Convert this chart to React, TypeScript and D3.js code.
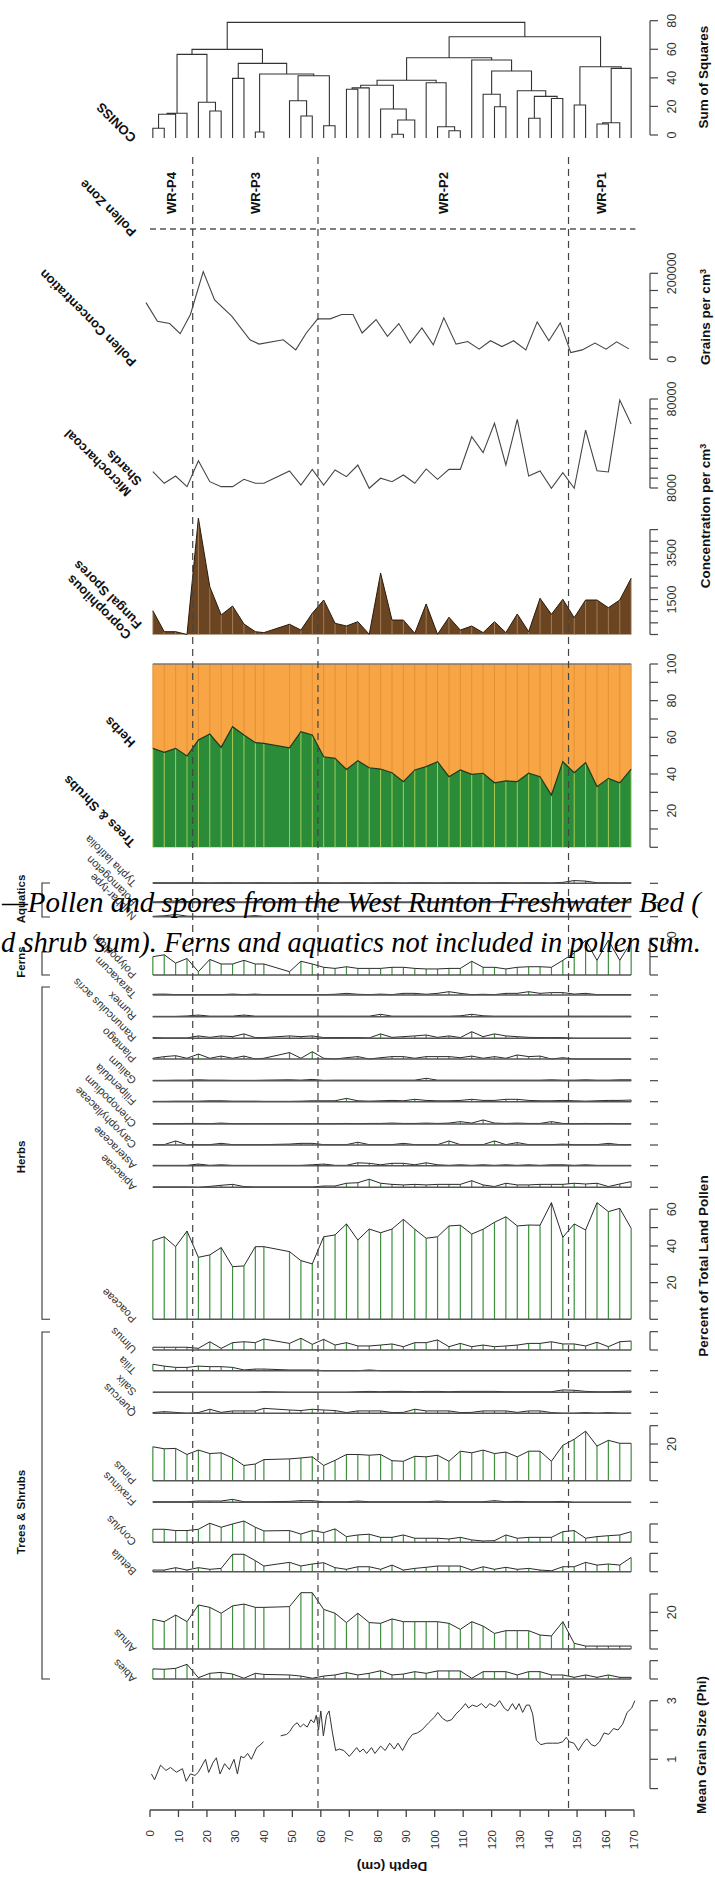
import React from "react";
import * as d3 from "d3";

// ---------------- DATA ----------------
const sampleDepths = [1, 5, 9, 13, 17, 21, 25, 29, 33, 37, 40, 49, 53, 57, 61, 65, 69, 73, 77, 81, 85, 89, 93, 97, 101, 105, 109, 113, 117, 121, 125, 129, 133, 137, 141, 145, 149, 153, 157, 161, 165, 169];

const depthTicks = [0, 10, 20, 30, 40, 50, 60, 70, 80, 90, 100, 110, 120, 130, 140, 150, 160, 170];
const zoneBounds = [15, 59, 147];
const zoneNames = ["WR-P4", "WR-P3", "WR-P2", "WR-P1"];
const zoneMids = [7.5, 37, 103, 158.5];

// CONISS merges: negative = leaf (-(index+1)), positive = earlier merge row; [a, b, height]
const conissMerges: [number, number, number][] = [
  [-1, -2, 4.7], [0, -3, 14.5], [1, -4, 15.2], [-6, -7, 16.8], [-5, 3, 22.9], [2, 4, 56.4],
  [-8, -9, 39.6], [-10, -11, 2.1], [-13, -14, 13.3], [-12, 8, 24.0], [-15, -16, 6.5], [9, 10, 41.5],
  [7, 11, 42.7], [6, 12, 50.1], [5, 13, 59.9], [-21, -22, 0.5], [15, -23, 10.5], [-20, 16, 18.2],
  [-17, -18, 32.0], [18, -19, 33.0], [19, 17, 34.8], [-26, -27, 3.0], [-25, 21, 5.8], [-24, 22, 36.6],
  [20, 23, 38.3], [-30, -31, 19.8], [-29, 25, 28.5], [-33, -34, 11.7], [-35, -36, 25.5], [27, 28, 27.0],
  [-32, 29, 31.0], [26, 30, 44.8], [-28, 31, 52.5], [24, 32, 54.1], [-37, -38, 21.0], [-39, -40, 7.7],
  [35, -41, 8.6], [36, -42, 46.6], [34, 37, 47.8], [33, 38, 68.8], [14, 39, 78.8],
];
const conissTicks = [0, 20, 40, 60, 80];

const concDepths = [-1.4, 2.6, 6.9, 10.6, 14.2, 18.7, 22.7, 28.7, 35.1, 38.3, 46.8, 51.2, 54.9, 58.9, 63.3, 67.3, 71.3, 74.5, 79.4, 83.4, 87.4, 91.4, 95.5, 99.5, 103.2, 107.5, 111.6, 115.6, 119.6, 123.6, 127.7, 132.0, 136.0, 140.1, 144.1, 147.8, 151.8, 156.3, 160.2, 163.9, 168.2];
const concValues = [131800, 88500, 83100, 59500, 104200, 203800, 137900, 100200, 45400, 35300, 45400, 21900, 61200, 94100, 94100, 104200, 104200, 61200, 92500, 53200, 83100, 37600, 72900, 33600, 96400, 35300, 41400, 23500, 43100, 29600, 43100, 21900, 87000, 43100, 84700, 15500, 21900, 37600, 23500, 40700, 24200];
const concTicks = [0, 40000, 80000, 120000, 160000, 200000];
const concLabelTicks = [0, 200000];

const charcoalValues = [21200, 11800, 17700, 9100, 30100, 13100, 9100, 9100, 15000, 11800, 11800, 21800, 10400, 23100, 10400, 22600, 17200, 26600, 7800, 15900, 13100, 18500, 11800, 23400, 15000, 23100, 23100, 49500, 36600, 60400, 26600, 63600, 17700, 21800, 7800, 20400, 7800, 54900, 22000, 21000, 79200, 59800];
const charcoalTicks = [8000, 16000, 24000, 32000, 40000, 48000, 56000, 64000, 72000, 80000];
const charcoalLabelTicks = [8000, 80000];

const fungalValues = [1020, 120, 120, 0, 4990, 2050, 840, 1220, 450, 120, 80, 440, 190, 910, 1480, 480, 365, 550, 10, 2630, 620, 620, 50, 1310, 10, 740, 190, 365, 80, 550, 80, 880, 120, 1550, 865, 1510, 720, 1480, 1480, 1150, 1480, 2410];
const fungalTicks = [0, 500, 1000, 1500, 2000, 2500, 3000, 3500, 4000, 4500];
const fungalLabelTicks = [1500, 3500];

const treesShrubsPct = [54.0, 51.8, 54.0, 49.8, 58.5, 61.8, 54.5, 65.8, 61.3, 57.1, 56.7, 54.3, 63.1, 61.3, 49.4, 48.5, 42.5, 47.2, 43.4, 42.7, 40.7, 35.8, 42.2, 44.0, 46.7, 38.5, 42.2, 39.8, 40.4, 35.2, 36.2, 35.8, 40.4, 38.5, 28.5, 46.7, 40.7, 46.2, 33.1, 37.6, 35.2, 42.7];
const pctTicks = [0, 10, 20, 30, 40, 50, 60, 70, 80, 90, 100];
const pctLabelTicks = [20, 40, 60, 80, 100];

// taxa percentages
const typha = [0.3, 0.3, 0.3, 0.3, 0.3, 0.2, 0.3, 0.3, 0.2, 0.3, 0.3, 0.2, 0.3, 0.3, 0.3, 0.2, 0.3, 0.3, 0.2, 0.3, 0.3, 0.2, 0.3, 0.3, 0.2, 0.3, 0.3, 0.3, 0.2, 0.3, 0.3, 0.2, 0.3, 0.3, 0.2, 0.5, 1.5, 1.2, 0.3, 0.3, 0.2, 0.3];
const potamogeton = [0.3, 0.5, 0.8, 0.5, 0.3, 0.3, 0.3, 0.3, 0.3, 0.3, 0.3, 0.3, 0.3, 0.5, 0.3, 0.3, 0.3, 0.3, 0.3, 0.3, 0.3, 0.3, 0.3, 0.3, 0.3, 0.3, 0.3, 0.3, 0.3, 0.5, 0.7, 0.5, 0.3, 0.3, 0.3, 0.3, 0.5, 0.3, 0.3, 0.3, 0.3, 0.3];
const nuphar = [0.2, 0.5, 1.2, 0.3, 0.2, 0.2, 0.2, 0.2, 0.2, 0.6, 0.2, 0.2, 0.2, 0.2, 0.2, 0.2, 0.2, 0.2, 0.2, 0.2, 0.2, 0.2, 0.2, 0.2, 0.2, 0.2, 0.2, 0.2, 0.2, 0.2, 0.2, 0.2, 0.2, 0.2, 0.2, 0.2, 0.2, 0.2, 0.2, 0.2, 0.2, 0.2];
const polypodium = [10, 11, 6.5, 9, 1.8, 8.5, 6, 6, 8, 6, 6, 1.8, 7.5, 6, 4.2, 3.6, 4.5, 3.6, 3.6, 3.6, 4.2, 4.2, 3.6, 3.3, 3.3, 3.6, 3.6, 7.5, 4.2, 4.2, 3.3, 4.2, 4.5, 4.5, 4.2, 8, 12, 19, 8, 19, 8, 18];
const taraxacum = [0.4, 0.5, 0.2, 0.2, 0.2, 0.2, 0.2, 0.5, 0.2, 0.5, 0.2, 0.2, 0.2, 0.2, 0.2, 0.4, 0.9, 0.4, 0.2, 0.5, 0.2, 0.9, 0.9, 0.4, 0.9, 1.8, 0.9, 0.2, 0.4, 0.2, 0.9, 0.9, 1.8, 0.9, 1.3, 1.3, 0.5, 0.9, 0.2, 0.2, 0.2, 0.2];
const rumex = [0.2, 0.2, 0.2, 0.4, 0.9, 0.3, 0.3, 0.3, 0.9, 0.3, 0.3, 0.3, 0.3, 0.3, 0.3, 0.3, 0.3, 0.3, 0.3, 1.3, 0.3, 0.3, 0.3, 0.3, 0.3, 0.3, 0.5, 1.3, 0.5, 0.3, 0.3, 0.3, 0.3, 0.3, 0.3, 0.3, 0.3, 0.3, 0.3, 0.3, 0.3, 0.3];
const ranunculus = [0.4, 0.2, 0.2, 0.2, 1.3, 0.5, 1.3, 0.9, 2.4, 0.4, 0.4, 1.3, 0.9, 1.3, 0.4, 0.4, 0.4, 0.4, 0.2, 2.4, 0.5, 0.9, 1.3, 1.8, 0.5, 1.3, 0.4, 3.6, 0.9, 2.4, 1.3, 0.9, 0.5, 0.4, 0.4, 0.4, 0, 0, 0, 0, 0, 0];
const plantago = [0.4, 1.3, 1.8, 0.4, 2.7, 0.4, 1.6, 0.4, 1.6, 0, 0.4, 3.5, 0.4, 4, 0.4, 0, 0.7, 1.3, 0, 0.7, 1.3, 1.3, 0.4, 1.3, 1.3, 1.3, 0.7, 1.6, 0.4, 1.3, 0.4, 2.2, 1.3, 1.6, 0, 0.7, 0, 0, 0, 0, 0, 0];
const galium = [0.2, 0.2, 0.3, 0.3, 0.5, 0.3, 0.3, 0.2, 0.2, 0.2, 0.3, 0.5, 0.3, 0.7, 0.2, 0.3, 0.3, 0.3, 0.3, 0.3, 0.3, 0.3, 0.3, 1.3, 0.3, 0.3, 0.3, 0.3, 0.3, 0.3, 0.3, 0.3, 0.3, 0.3, 0.5, 0.3, 0.3, 0.5, 0.3, 0.3, 0.5, 0.5];
const filipendula = [0.2, 0.2, 0.3, 0.3, 0.3, 0.5, 0.5, 0.3, 0.3, 0.3, 0.2, 0.2, 0.3, 0.5, 0.5, 0.5, 1.8, 0.5, 0.3, 0.5, 0.7, 0.5, 1.3, 0.7, 0.5, 0.5, 0.7, 1.3, 0.7, 0.7, 1.3, 1.3, 0.7, 0.5, 0.5, 0.7, 0.5, 0.3, 0.5, 0.7, 0.7, 0.9];
const chenopodium = [0.2, 0.2, 0.2, 0.3, 0.3, 0.2, 0.5, 0.2, 0.2, 0.2, 0.2, 0.2, 0.2, 0.2, 0.2, 0.2, 0.3, 0.2, 0.3, 0.3, 0.5, 0.3, 0.3, 0.5, 0.3, 0.5, 1.3, 0.5, 2.2, 0.5, 0.3, 0.5, 0.3, 0.3, 1.3, 0.3, 0.2, 0.3, 0.2, 0.3, 0.2, 0.2];
const caryophyllaceae = [0.2, 0.2, 2.2, 0.2, 0.2, 0.2, 0.9, 0.2, 0.2, 0.2, 0.2, 0.5, 0.9, 0.9, 0.2, 0.2, 0.2, 1.5, 0.2, 0.2, 0.2, 0.9, 0.2, 0.2, 0.2, 2.2, 0.2, 0.2, 0.2, 2.2, 0.2, 1.3, 0.2, 0.2, 0.2, 0.5, 0.2, 0.2, 0.2, 0.9, 0.2, 0.2];
const asteraceae = [0.2, 0.2, 0.2, 0.2, 0.9, 0.2, 0.5, 0.2, 0.2, 0.2, 0.2, 0.2, 0.2, 0.5, 0.9, 0.2, 0.2, 1.6, 1.3, 0.5, 1.3, 1.3, 0.5, 1.6, 0.5, 0.2, 0.5, 0.2, 0.5, 0.2, 0.5, 0.2, 0.5, 0.2, 0.5, 0.5, 0.2, 0.5, 0.2, 0.2, 0.2, 0.2];
const apiaceae = [0.2, 0.2, 0.2, 0.2, 0, 0.5, 1.1, 1.6, 0.4, 0.2, 0.2, 0.2, 0.2, 0.2, 0.7, 0.7, 2.2, 2.5, 4.4, 2.2, 1.6, 1.3, 1.6, 1.3, 1.6, 1.6, 1.6, 3.6, 1.3, 0.4, 2.2, 1.3, 1.3, 1.6, 1.6, 1.6, 2.2, 1.8, 2.2, 0.4, 1.8, 3.1];
const poaceae = [42.9, 45.0, 39.6, 48.1, 33.8, 35.1, 39.1, 28.7, 29.1, 39.6, 39.6, 36.9, 32.0, 30.2, 45.0, 46.0, 52.0, 43.2, 49.2, 47.2, 49.2, 54.5, 49.1, 44.2, 45.0, 50.9, 51.3, 46.5, 49.1, 52.9, 55.9, 50.9, 51.4, 51.3, 63.6, 44.7, 52.0, 48.7, 63.6, 58.7, 60.5, 49.6];
const ulmus = [1.5, 1.5, 1.5, 1.5, 0.9, 4.5, 0.9, 4, 4.5, 4, 6, 3.6, 6.4, 3.1, 5.8, 2.7, 4, 2.2, 2.2, 2.7, 3.3, 1.8, 4, 4, 5.5, 1.8, 3.6, 1.8, 2.7, 1.8, 2.2, 2.7, 3.6, 3.6, 4.5, 3.3, 3.3, 2.2, 4.2, 1.8, 4.5, 4.9];
const tilia = [3.5, 2.5, 1.8, 1.8, 2.5, 2.2, 2.2, 1.8, 0.4, 0.9, 0.9, 0.4, 0.4, 0.4, 0, 0, 0, 0, 0.4, 0, 0, 0, 0, 0, 0, 0, 0, 0, 0, 0, 0, 0, 0, 0, 0, 0, 0, 0, 0, 0, 0, 0];
const salix = [0, 0, 0, 0, 0, 0, 0, 0, 0, 0, 0.3, 0, 0, 0, 0, 0, 0, 0.3, 0.5, 0.3, 0.5, 0.5, 0.3, 0.5, 0.5, 0.3, 0.5, 0.5, 0.5, 0.5, 0.3, 0.3, 0.3, 0.3, 0.3, 1.3, 1.1, 0.5, 0.3, 0.3, 0.5, 0.7];
const quercus = [0.4, 0.9, 0.5, 0, 0.4, 2.2, 0.5, 1.3, 1.3, 1.3, 2.7, 1.8, 1.5, 2.2, 1.8, 1.5, 0.4, 1.3, 1.3, 1.3, 0.4, 0.5, 2.2, 1.3, 1.3, 1.3, 0.4, 0.5, 1.3, 1.3, 1.3, 0.5, 1.3, 1.3, 0.4, 0, 0, 0.4, 0, 0.4, 0, 0];
const pinus = [18.5, 17.4, 17.6, 14.3, 16.7, 14.8, 15.2, 12.4, 8.3, 9.1, 11.5, 11.9, 12.4, 13, 8.3, 11.1, 14.3, 14.3, 13.9, 14.3, 10.9, 10.6, 13.3, 13, 13.9, 10.6, 16.1, 15.2, 16.7, 14.8, 15.6, 13, 16.1, 16.1, 10.6, 19.3, 22.6, 27, 18.9, 22, 20.4, 20.4];
const fraxinus = [0.3, 0.3, 0.3, 0.3, 0.7, 0.7, 0.7, 1.6, 0.3, 0.3, 0.3, 0.5, 0.9, 0.9, 0.3, 0.3, 0.3, 0.7, 0.3, 0.3, 0.3, 0.3, 0.3, 0.3, 0.7, 0.3, 0.3, 0.3, 0.3, 0.9, 0.3, 0.5, 0.3, 0.3, 0.3, 0.5, 0, 0, 0, 0, 0, 0];
const corylus = [7.1, 7.1, 6.4, 6.4, 7.1, 10.4, 8.2, 10, 11.6, 8.2, 6.2, 6.4, 4.5, 6.4, 5.3, 7.3, 3.1, 4, 4.4, 2.7, 2.7, 4, 2.2, 2.2, 2.2, 1.8, 2.7, 1.3, 0.7, 0.9, 4, 2.2, 2.7, 2.7, 2.7, 5.8, 6.4, 2.2, 3.1, 3.6, 4, 5.8];
const betula = [0.9, 0.9, 2.2, 0.9, 2.2, 1.3, 1.8, 9.5, 9.5, 6, 3.1, 5.1, 3.1, 4.2, 4.9, 2.2, 1.3, 2.7, 2.7, 1.3, 3.6, 0.9, 1.8, 2.4, 3.1, 3.1, 3.1, 0.9, 2.7, 1.3, 2.4, 1.3, 1.8, 0.9, 0.5, 2.7, 2.7, 5.1, 3.6, 4.2, 3.6, 7.8];
const alnus = [16.2, 14.9, 18.5, 14.9, 24, 22.7, 19.5, 23.5, 24.5, 22.7, 22.7, 23.1, 30.7, 30.7, 21.6, 19.5, 14.4, 19.5, 14.4, 14, 16.4, 14.9, 14.9, 14.9, 14.9, 14, 10.7, 14.9, 12.5, 8.5, 10, 10, 10, 7.6, 7.1, 14.9, 3.1, 1.6, 1.6, 1.6, 1.6, 1.6];
const abies = [5.5, 5.3, 5.8, 8, 0.7, 3.1, 3.6, 2.7, 0.4, 3.1, 2.5, 2.2, 1.6, 0.4, 1.6, 2.2, 3.5, 2.2, 3.1, 4.5, 2.2, 2.7, 4, 3.1, 4.4, 4.4, 4.4, 0.4, 4, 4, 4, 2.2, 4, 4, 2.2, 2.2, 0.9, 2.2, 0.9, 2.2, 0.9, 0.9];

const grainDepths = [0.5, 1.6, 3.7, 5.6, 7.2, 9.3, 11.4, 12.7, 14.2, 15.8, 16.9, 19.5, 20.6, 22.2, 23.3, 24.6, 26.2, 27.9, 29.5, 30.7, 31.9, 33.0, 34.3, 35.6, 37.5, 38.6, 39.9, 45.9, 48.0, 49.1, 50.4, 51.7, 52.8, 53.9, 55.2, 56.5, 57.6, 58.4, 59.2, 60.0, 60.9, 62.0, 62.9, 64.1, 65.2, 66.5, 68.1, 70.0, 71.3, 72.6, 73.7, 74.9, 76.1, 77.8, 79.0, 81.0, 82.6, 84.2, 85.8, 87.1, 88.7, 90.6, 92.2, 93.9, 95.5, 97.9, 100.0, 101.1, 102.7, 104.3, 105.9, 107.5, 109.1, 110.8, 111.9, 113.2, 114.8, 116.4, 118.0, 119.3, 121.2, 122.8, 124.4, 125.7, 127.3, 128.5, 129.6, 130.9, 132.2, 133.3, 134.4, 135.7, 137.3, 139.3, 141.3, 143.4, 145.0, 146.2, 147.3, 148.9, 150.5, 152.1, 153.4, 155.0, 156.3, 157.9, 159.5, 161.1, 162.8, 164.4, 166.0, 167.6, 169.2, 170.3];
const grainPhi = [0.5, 0.3, 0.8, 0.62, 0.72, 0.56, 0.68, 0.25, 0.5, 0.45, 0.55, 1.0, 0.55, 0.9, 1.05, 0.5, 0.85, 0.65, 1.0, 0.5, 1.1, 1.05, 1.2, 1.0, 1.4, 1.48, 1.6, 1.8, 1.85, 1.95, 2.15, 2.25, 2.1, 2.2, 2.1, 2.35, 2.25, 2.5, 2.0, 2.65, 1.8, 2.5, 2.65, 1.9, 1.3, 1.35, 1.3, 1.1, 1.25, 1.4, 1.25, 1.35, 1.2, 1.4, 1.2, 1.45, 1.3, 1.55, 1.35, 1.55, 1.3, 1.65, 1.85, 1.9, 2.0, 2.25, 2.45, 2.6, 2.4, 2.3, 2.35, 2.55, 2.7, 2.9, 2.75, 2.85, 2.8, 2.9, 2.75, 2.9, 2.8, 3.0, 2.75, 2.65, 2.9, 2.7, 2.9, 2.6, 2.85, 2.85, 2.55, 1.65, 1.5, 1.55, 1.55, 1.55, 1.6, 1.75, 1.6, 1.55, 1.3, 1.55, 1.7, 1.5, 1.45, 1.6, 1.9, 1.85, 2.05, 2.0, 2.2, 2.6, 2.75, 3.0];
const grainTicks = [0, 1, 2, 3];
const grainLabelTicks = [1, 3];

const captionLine1 = "\u2014Pollen and spores from the West Runton Freshwater Bed (";
const captionLine2 = "d shrub sum). Ferns and aquatics not included in pollen sum.";

// ---------------- LAYOUT ----------------
const FONT = "'Liberation Sans', Arial, Helvetica, sans-serif";
const K = 1.834; // px per percent
const AX = 650;
const TL = 8;
const TLX = 672;
const LX = 137;

type Taxon = { name: string; values: number[]; base: number; ticks: number[]; labels: number[] };
const taxa: Taxon[] = [
  { name: "Typha latifolia", values: typha, base: 883.3, ticks: [0], labels: [] },
  { name: "Potamogeton", values: potamogeton, base: 902.5, ticks: [0], labels: [] },
  { name: "Nuphar-type", values: nuphar, base: 916.7, ticks: [0], labels: [] },
  { name: "Polypodium", values: polypodium, base: 975, ticks: [0, 10, 20], labels: [20] },
  { name: "Taraxacum", values: taraxacum, base: 995, ticks: [0], labels: [] },
  { name: "Rumex", values: rumex, base: 1016.7, ticks: [0], labels: [] },
  { name: "Ranunculus acris", values: ranunculus, base: 1038.3, ticks: [0], labels: [] },
  { name: "Plantago", values: plantago, base: 1059, ticks: [0], labels: [] },
  { name: "Galium", values: galium, base: 1080.7, ticks: [0], labels: [] },
  { name: "Filipendula", values: filipendula, base: 1101.7, ticks: [0], labels: [] },
  { name: "Chenopodium", values: chenopodium, base: 1124, ticks: [0], labels: [] },
  { name: "Caryophyllaceae", values: caryophyllaceae, base: 1145, ticks: [0], labels: [] },
  { name: "Asteraceae", values: asteraceae, base: 1165.7, ticks: [0], labels: [] },
  { name: "Apiaceae", values: apiaceae, base: 1187.3, ticks: [0], labels: [] },
  { name: "Poaceae", values: poaceae, base: 1319.3, ticks: [0, 10, 20, 30, 40, 50, 60], labels: [20, 40, 60] },
  { name: "Ulmus", values: ulmus, base: 1350, ticks: [0, 10], labels: [] },
  { name: "Tilia", values: tilia, base: 1370.7, ticks: [0], labels: [] },
  { name: "Salix", values: salix, base: 1392.3, ticks: [0], labels: [] },
  { name: "Quercus", values: quercus, base: 1413.3, ticks: [0], labels: [] },
  { name: "Pinus", values: pinus, base: 1480.7, ticks: [0, 10, 20, 30], labels: [20] },
  { name: "Fraxinus", values: fraxinus, base: 1502.3, ticks: [0], labels: [] },
  { name: "Corylus", values: corylus, base: 1542.3, ticks: [0, 10], labels: [] },
  { name: "Betula", values: betula, base: 1571.7, ticks: [0, 10], labels: [] },
  { name: "Alnus", values: alnus, base: 1649, ticks: [0, 10, 20, 30], labels: [20] },
  { name: "Abies", values: abies, base: 1679, ticks: [0, 10], labels: [] },
];

const groups = [
  { name: "Aquatics", top: 883, bottom: 917, mid: 899 },
  { name: "Ferns", top: 952, bottom: 975, mid: 962 },
  { name: "Herbs", top: 987, bottom: 1319.3, mid: 1157 },
  { name: "Trees & Shrubs", top: 1332, bottom: 1679, mid: 1512 },
];

function RightAxis({ ticks, labels, scale }: { ticks: number[]; labels: number[]; scale: (v: number) => number }) {
  const ys = ticks.map(scale);
  const top = Math.min(...ys);
  const bot = Math.max(...ys);
  return (
    <g stroke="#444" strokeWidth={1.2}>
      {ys.length > 1 && <line x1={AX} x2={AX} y1={top} y2={bot} />}
      {ys.map((y, i) => (
        <line key={i} x1={AX} x2={AX + TL} y1={y} y2={y} />
      ))}
      {labels.map((v, i) => (
        <text key={"l" + i} stroke="none" fill="#333" fontSize={12.5} fontFamily={FONT} textAnchor="middle" dy="0.35em" transform={`translate(${TLX},${scale(v)}) rotate(-90)`}>
          {String(v)}
        </text>
      ))}
    </g>
  );
}

function PanelLabel({ y, lines, bold, x = LX, size }: { y: number; lines: string[]; bold?: boolean; x?: number; size?: number }) {
  return (
    <text transform={`translate(${x},${y}) rotate(-135)`} fontFamily={FONT} fontWeight={bold ? "bold" : "normal"} fontSize={size ?? (bold ? 13 : 11)} fill={bold ? "#111" : "#333"}>
      {lines.map((l, i) => (
        <tspan key={i} x={0} dy={i === 0 ? 0 : 15}>
          {l}
        </tspan>
      ))}
    </text>
  );
}

function AxisTitle({ x, y, text }: { x: number; y: number; text: React.ReactNode }) {
  return (
    <text transform={`translate(${x},${y}) rotate(-90)`} textAnchor="middle" dy="0.35em" fontFamily={FONT} fontWeight="bold" fontSize={13.5} fill="#111">
      {text}
    </text>
  );
}

export default function App() {
  const x = d3.scaleLinear().domain([0, 170]).range([150, 634]);
  const xs = sampleDepths.map((d) => x(d));
  const x0 = xs[0];
  const x1 = xs[xs.length - 1];

  // CONISS
  const yC = d3.scaleLinear().domain([0, 80]).range([135, 20.7]);
  const nodes: { x: number; h: number }[] = [];
  const segs: string[] = [];
  const nodeOf = (id: number) => (id < 0 ? { x: xs[-id - 1], h: -1 } : nodes[id]);
  const yOf = (h: number) => (h < 0 ? 138 : yC(h));
  conissMerges.forEach(([a, b, h]) => {
    const na = nodeOf(a);
    const nb = nodeOf(b);
    segs.push(`M${na.x},${yOf(na.h)}V${yC(h)}H${nb.x}V${yOf(nb.h)}`);
    nodes.push({ x: (na.x + nb.x) / 2, h });
  });

  // concentration
  const yConc = d3.scaleLinear().domain([0, 200000]).range([359.3, 273.3]);
  const concLine = d3.line<number>().x((_, i) => x(concDepths[i])).y((v) => yConc(v))(concValues) || "";

  // charcoal
  const yChar = d3.scaleLinear().domain([8000, 80000]).range([488, 399]);
  const charLine = d3.line<number>().x((_, i) => xs[i]).y((v) => yChar(v))(charcoalValues) || "";

  // fungal
  const yFun = d3.scaleLinear().domain([0, 4500]).range([634.5, 529.6]);
  const funArea = d3.area<number>().x((_, i) => xs[i]).y0(yFun(0)).y1((v) => yFun(v))(fungalValues) || "";
  const funLine = d3.line<number>().x((_, i) => xs[i]).y((v) => yFun(v))(fungalValues) || "";

  // stacked %
  const yPct = d3.scaleLinear().domain([0, 100]).range([847.3, 664]);
  const greenArea = d3.area<number>().x((_, i) => xs[i]).y0(yPct(0)).y1((v) => yPct(v))(treesShrubsPct) || "";
  const orangeArea = d3.area<number>().x((_, i) => xs[i]).y0((v) => yPct(v)).y1(yPct(100))(treesShrubsPct) || "";
  const treeLine = d3.line<number>().x((_, i) => xs[i]).y((v) => yPct(v))(treesShrubsPct) || "";

  // grain size
  const yGrain = d3.scaleLinear().domain([0, 3]).range([1788.6, 1700.7]);
  const grainPts = grainDepths.map((d, i) => ({ d, v: grainPhi[i] }));
  const grainSegs: { d: number; v: number }[][] = [[]];
  grainPts.forEach((p, i) => {
    if (i > 0 && p.d - grainPts[i - 1].d > 4) grainSegs.push([]);
    grainSegs[grainSegs.length - 1].push(p);
  });
  const grainLineGen = d3.line<{ d: number; v: number }>().x((p) => x(p.d)).y((p) => yGrain(p.v));

  const dashColor = "#555";
  const serif = "'Liberation Serif', 'Times New Roman', Times, serif";

  return (
    <svg width={715} height={1887} style={{ position: "absolute", left: 0, top: 0, background: "#fff" }} fontFamily={FONT}>
      <rect x={0} y={0} width={715} height={1887} fill="#fff" />

      {/* CONISS */}
      <path d={segs.join("")} fill="none" stroke="#333" strokeWidth={1.1} />
      <RightAxis ticks={conissTicks} labels={conissTicks} scale={yC} />
      <AxisTitle x={703} y={77} text="Sum of Squares" />
      <PanelLabel y={137} lines={["CONISS"]} bold />

      {/* pollen zones */}
      <line x1={x(0)} x2={x(170.5)} y1={229} y2={229} stroke={dashColor} strokeWidth={1.3} strokeDasharray="6,4" />
      {zoneNames.map((z, i) => (
        <text key={z} transform={`translate(${x(zoneMids[i])},193) rotate(-90)`} textAnchor="middle" dy="0.35em" fontWeight="bold" fontSize={13} fill="#111">
          {z}
        </text>
      ))}
      <PanelLabel y={231} lines={["Pollen Zone"]} bold />

      {/* pollen concentration */}
      <path d={concLine} fill="none" stroke="#444" strokeWidth={1.1} />
      <RightAxis ticks={concTicks} labels={concLabelTicks} scale={yConc} />
      <AxisTitle x={705} y={317} text={<>Grains per cm<tspan dy="-4" fontSize={9}>3</tspan></>} />
      <PanelLabel y={361} lines={["Pollen Concentration"]} bold />

      {/* microcharcoal */}
      <path d={charLine} fill="none" stroke="#444" strokeWidth={1.1} />
      <RightAxis ticks={charcoalTicks} labels={charcoalLabelTicks} scale={yChar} />
      <PanelLabel y={491} x={132} lines={["Microcharcoal", "Shards"]} bold />

      {/* fungal spores */}
      <path d={funArea} fill="#6b4421" stroke="none" />
      {xs.map((px, i) => (
        <line key={i} x1={px} x2={px} y1={yFun(0)} y2={yFun(fungalValues[i])} stroke="#b08c68" strokeWidth={0.8} />
      ))}
      <path d={funLine} fill="none" stroke="#2a1a0a" strokeWidth={1} />
      <RightAxis ticks={fungalTicks} labels={fungalLabelTicks} scale={yFun} />
      <PanelLabel y={634} x={132} lines={["Coprophilous", "Fungal Spores"]} bold />
      <AxisTitle x={705} y={516} text={<>Concentration per cm<tspan dy="-4" fontSize={9}>3</tspan></>} />

      {/* stacked trees/herbs */}
      <path d={orangeArea} fill="#f7a545" />
      <path d={greenArea} fill="#2a8c38" />
      {xs.map((px, i) => (
        <g key={i}>
          <line x1={px} x2={px} y1={yPct(0)} y2={yPct(treesShrubsPct[i])} stroke="#b7d35a" strokeWidth={0.9} />
          <line x1={px} x2={px} y1={yPct(treesShrubsPct[i])} y2={yPct(100)} stroke="#e28f33" strokeWidth={0.9} />
        </g>
      ))}
      <path d={treeLine} fill="none" stroke="#1d3a1d" strokeWidth={1.2} />
      <line x1={x0} x2={x1} y1={yPct(100)} y2={yPct(100)} stroke="#777" strokeWidth={1.5} />
      <RightAxis ticks={pctTicks} labels={pctLabelTicks} scale={yPct} />
      <PanelLabel y={742} x={136} lines={["Herbs"]} bold />
      <PanelLabel y={842} x={136} lines={["Trees & Shrubs"]} bold />

      {/* taxa */}
      {taxa.map((t) => {
        const sc = (v: number) => t.base - v * K;
        const pts: [number, number][] = t.values.map((v, i) => [xs[i], sc(v)]);
        const ln = d3.line()(pts) || "";
        return (
          <g key={t.name}>
            {pts.map(([px, py], i) => (
              <line key={i} x1={px} x2={px} y1={t.base} y2={py} stroke="#3d8f3d" strokeWidth={1.2} />
            ))}
            <path d={ln} fill="none" stroke="#2a2a2a" strokeWidth={1} />
            <line x1={x0} x2={x1} y1={t.base} y2={t.base} stroke="#555" strokeWidth={1.6} />
            <RightAxis ticks={t.ticks} labels={t.labels} scale={sc} />
            <PanelLabel y={t.base - 1} lines={[t.name]} />
          </g>
        );
      })}
      <AxisTitle x={703} y={1266} text="Percent of Total Land Pollen" />

      {/* group brackets */}
      {groups.map((g) => (
        <g key={g.name}>
          <path d={`M50,${g.top}H42V${g.bottom}H50`} fill="none" stroke="#333" strokeWidth={1.1} />
          <text transform={`translate(20.5,${g.mid}) rotate(-90)`} textAnchor="middle" dy="0.35em" fontWeight="bold" fontSize={11.5} fill="#111">
            {g.name}
          </text>
        </g>
      ))}

      {/* grain size */}
      {grainSegs.map((s, i) => (
        <path key={i} d={grainLineGen(s) || ""} fill="none" stroke="#333" strokeWidth={1} />
      ))}
      <RightAxis ticks={grainTicks} labels={grainLabelTicks} scale={yGrain} />
      <AxisTitle x={701} y={1745} text="Mean Grain Size (Phi)" />

      {/* zone dashed lines */}
      {zoneBounds.map((b) => (
        <line key={b} x1={x(b)} x2={x(b)} y1={157} y2={1810} stroke="#444" strokeWidth={1.2} strokeDasharray="7,5" />
      ))}

      {/* depth axis */}
      <g stroke="#444" strokeWidth={1.3}>
        <line x1={x(0)} x2={x(170)} y1={1810} y2={1810} />
        {depthTicks.map((d) => (
          <line key={d} x1={x(d)} x2={x(d)} y1={1810} y2={1817} />
        ))}
      </g>
      {depthTicks.map((d) => (
        <text key={"t" + d} transform={`translate(${x(d)},1830) rotate(-90)`} textAnchor="end" dy="0.35em" fontSize={11.5} fill="#333">
          {d}
        </text>
      ))}
      <text transform={`translate(${x(85)},1867) rotate(180)`} textAnchor="middle" dy="0.35em" fontWeight="bold" fontSize={13.5} fill="#111">
        Depth (cm)
      </text>

      {/* overlapping caption */}
      <text x={2} y={912} fontFamily={serif} fontStyle="italic" fontSize={29} fill="#000">
        {captionLine1}
      </text>
      <text x={1} y={952} fontFamily={serif} fontStyle="italic" fontSize={28.5} fill="#000">
        {captionLine2}
      </text>
    </svg>
  );
}
